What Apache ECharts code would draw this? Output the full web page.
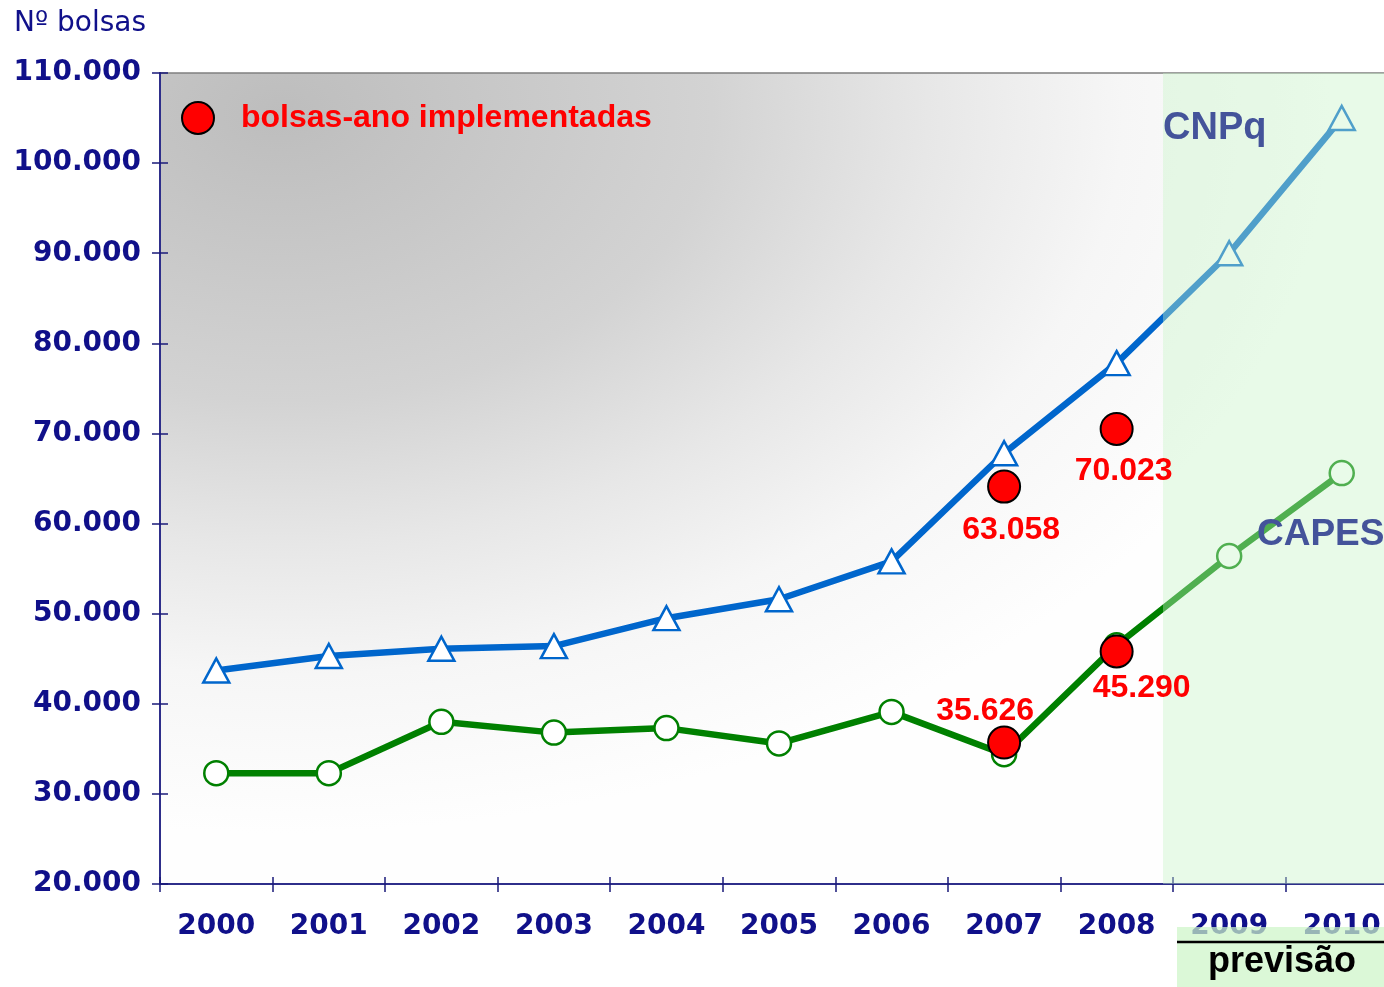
<!DOCTYPE html>
<html>
<head>
<meta charset="utf-8">
<title>Nº bolsas CNPq / CAPES</title>
<script src="https://cdn.jsdelivr.net/npm/echarts@6/dist/echarts.min.js"></script>
<style>
  html, body { margin: 0; padding: 0; background: #fff; overflow: hidden; }
  #chart { width: 1400px; height: 987px; }
</style>
</head>
<body>
<div id="chart"></div>
<script>
// dados
const years = ['2000', '2001', '2002', '2003', '2004', '2005', '2006', '2007', '2008', '2009', '2010']
const cnpq = [43700, 45300, 46100, 46400, 49500, 51600, 55800, 67800, 77800, 90000, 105000]
const capes = [32300, 32300, 38000, 36800, 37300, 35600, 39100, 34400, 46500, 56400, 65600]
// bolsas-ano implementadas (pontos vermelhos)
const implCnpq = [null, null, null, null, null, null, null, 64100, 70500, null, null]
const implCapes = [null, null, null, null, null, null, null, 35700, 45800, null, null]
const implCnpqLabels = ['', '', '', '', '', '', '', '63.058', '70.023', '', '']
const implCapesLabels = ['', '', '', '', '', '', '', '35.626', '45.290', '', '']
const yTicks = [20000, 30000, 40000, 50000, 60000, 70000, 80000, 90000, 100000, 110000]

const NAVY = '#10108a'
const AXIS_FONT = 'DejaVu Sans'
const RED_FONT = '"Liberation Sans", Arial, sans-serif'

// deslocamento dos rótulos vermelhos em relação ao ponto
const cnpqLabelOffset = { 7: [7, 44], 8: [7, 42] }
const capesLabelOffset = { 7: [-19, -31], 8: [25, 37] }

const buildImpl = (values, labels, offsets) => values.map((v, i) => {
  if (v === null) return null
  return {
    value: v,
    label: {
      show: true,
      position: 'inside',
      offset: offsets[i],
      formatter: () => labels[i],
      color: '#ff0000',
      fontFamily: RED_FONT,
      fontWeight: 'bold',
      fontSize: 32
    }
  }
})

const chart = echarts.init(document.getElementById('chart'))

const gridLeft = 160
const gridTop = 73
const gridWidth = 1238
const gridHeight = 811

chart.setOption({
  animation: false,
  title: {
    text: 'Nº bolsas',
    left: 9,
    top: 5,
    textStyle: { color: NAVY, fontFamily: AXIS_FONT, fontWeight: 'normal', fontSize: 28 }
  },
  legend: {
    data: ['bolsas-ano implementadas'],
    left: 176,
    top: 96,
    icon: 'circle',
    itemWidth: 32,
    itemHeight: 32,
    selectedMode: false,
    textStyle: {
      color: '#ff0000',
      fontFamily: RED_FONT,
      fontWeight: 'bold',
      fontSize: 32,
      padding: [0, 0, 0, 22]
    }
  },
  grid: {
    left: gridLeft,
    top: gridTop,
    width: gridWidth,
    height: gridHeight,
    show: true,
    borderColor: '#808080',
    borderWidth: 1.5,
    backgroundColor: 'transparent'
  },
  xAxis: [
    {
      type: 'category',
      data: years,
      boundaryGap: true,
      axisLine: { lineStyle: { color: '#2e2e8a', width: 2 } },
      axisTick: { show: true, length: 8, lineStyle: { color: '#1a1a7a', width: 1.5 } },
      axisLabel: {
        color: NAVY,
        fontFamily: AXIS_FONT,
        fontWeight: 'bold',
        fontSize: 28,
        margin: 29
      },
      z: 3
    },
    {
      type: 'category',
      data: years,
      position: 'bottom',
      boundaryGap: true,
      axisLine: { show: false },
      axisTick: { show: true, inside: true, length: 7, lineStyle: { color: '#1a1a7a', width: 1.5 } },
      axisLabel: { show: false },
      z: 3
    }
  ],
  yAxis: [
    {
      type: 'value',
      min: 20000,
      max: 110000,
      interval: 10000,
      axisLine: { show: true, lineStyle: { color: '#2e2e8a', width: 2 } },
      axisTick: { show: true, length: 8, lineStyle: { color: '#1a1a7a', width: 1.5 } },
      splitLine: { show: false },
      axisLabel: {
        color: NAVY,
        fontFamily: AXIS_FONT,
        fontWeight: 'bold',
        fontSize: 28,
        margin: 19,
        padding: [4, 0, 0, 0],
        formatter: v => yTicks.includes(v) ? (v / 1000) + '.000' : ''
      },
      z: 3
    },
    {
      type: 'value',
      min: 20000,
      max: 110000,
      interval: 10000,
      position: 'left',
      axisLine: { show: false },
      axisTick: { show: true, inside: true, length: 8, lineStyle: { color: '#1a1a7a', width: 1.5 } },
      splitLine: { show: false },
      axisLabel: { show: false },
      z: 3
    }
  ],
  series: [
    {
      name: 'CNPq',
      type: 'line',
      data: cnpq,
      symbol: 'triangle',
      symbolSize: [26, 24],
      showAllSymbol: true,
      lineStyle: { color: '#0066cc', width: 6.5 },
      itemStyle: { color: '#ffffff', borderColor: '#0066cc', borderWidth: 2.5 },
      emphasis: { disabled: true },
      z: 3
    },
    {
      name: 'CAPES',
      type: 'line',
      data: capes,
      symbol: 'circle',
      symbolSize: 24,
      showAllSymbol: true,
      lineStyle: { color: '#008000', width: 6.5 },
      itemStyle: { color: '#ffffff', borderColor: '#008000', borderWidth: 2.5 },
      emphasis: { disabled: true },
      z: 3
    },
    {
      name: 'bolsas-ano implementadas',
      type: 'scatter',
      data: buildImpl(implCnpq, implCnpqLabels, cnpqLabelOffset),
      symbol: 'circle',
      symbolSize: 32,
      itemStyle: { color: '#ff0000', borderColor: '#000000', borderWidth: 2, opacity: 1 },
      emphasis: { disabled: true },
      z: 55
    },
    {
      name: 'bolsas-ano implementadas',
      type: 'scatter',
      data: buildImpl(implCapes, implCapesLabels, capesLabelOffset),
      symbol: 'circle',
      symbolSize: 32,
      itemStyle: { color: '#ff0000', borderColor: '#000000', borderWidth: 2, opacity: 1 },
      emphasis: { disabled: true },
      z: 55
    }
  ],
  graphic: [
    // fundo cinza em degradê da área do gráfico
    {
      type: 'rect',
      x: gridLeft,
      y: gridTop,
      scaleX: 1.5,
      shape: { x: 0, y: 0, width: gridWidth / 1.5, height: gridHeight },
      style: {
        fill: {
          type: 'radial',
          x: 80, y: 40, r: 720,
          global: true,
          colorStops: [
            { offset: 0, color: '#bdbdbd' },
            { offset: 0.4, color: '#d3d3d3' },
            { offset: 0.6, color: '#e7e7e7' },
            { offset: 0.78, color: '#f6f6f6' },
            { offset: 1, color: '#fefefe' }
          ]
        }
      },
      silent: true,
      z: -10
    },
    // faixa verde de previsão (sobreposta)
    {
      type: 'rect',
      shape: { x: 1163, y: gridTop, width: 240, height: gridHeight },
      style: { fill: 'rgba(199,245,200,0.4)' },
      silent: true,
      z: 50
    },
    {
      type: 'rect',
      shape: { x: 1177, y: 927, width: 210, height: 62 },
      style: { fill: 'rgba(205,245,200,0.72)' },
      silent: true,
      z: 50
    },
    {
      type: 'line',
      shape: { x1: 1177, y1: 942, x2: 1386, y2: 942 },
      style: { stroke: '#000000', lineWidth: 2.5 },
      silent: true,
      z: 51
    },
    {
      type: 'text',
      x: 1282,
      y: 962,
      style: {
        text: 'previsão',
        fill: '#000000',
        font: 'bold 36px "Liberation Sans", Arial, sans-serif',
        textAlign: 'center',
        textVerticalAlign: 'middle'
      },
      silent: true,
      z: 52
    },
    {
      type: 'text',
      x: 1163,
      y: 129,
      style: {
        text: 'CNPq',
        fill: '#44539a',
        font: 'bold 38px "Liberation Sans", Arial, sans-serif',
        textVerticalAlign: 'middle'
      },
      silent: true,
      z: 60
    },
    {
      type: 'text',
      x: 1257,
      y: 535,
      style: {
        text: 'CAPES',
        fill: '#44539a',
        font: 'bold 37px "Liberation Sans", Arial, sans-serif',
        textVerticalAlign: 'middle'
      },
      silent: true,
      z: 60
    }
  ]
})
</script>
</body>
</html>
